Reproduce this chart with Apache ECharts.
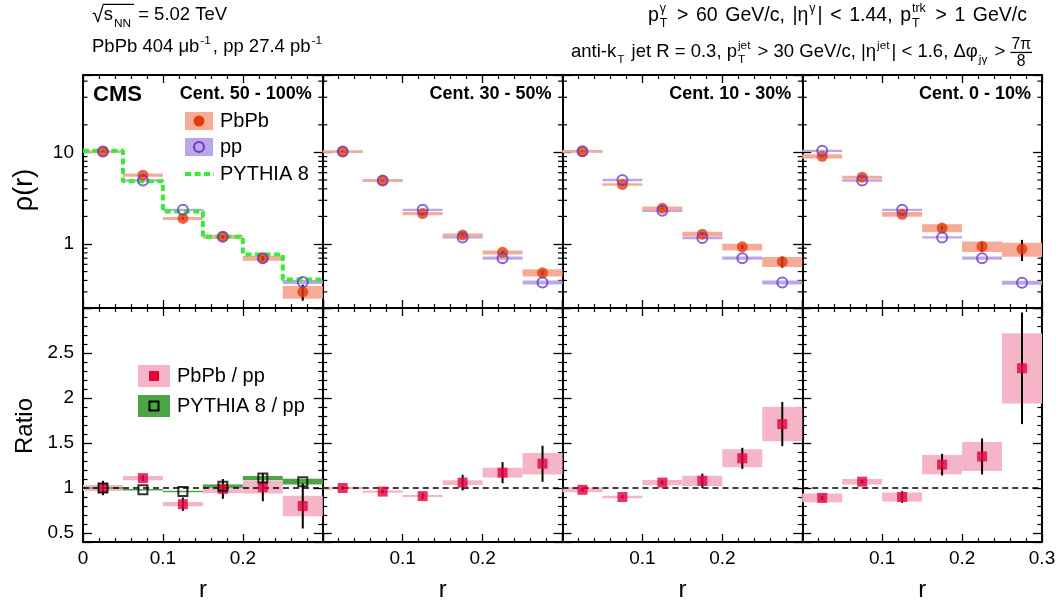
<!DOCTYPE html>
<html><head><meta charset="utf-8">
<script src="https://cdn.jsdelivr.net/npm/echarts@6/dist/echarts.min.js"></script>
<style>html,body{margin:0;padding:0;background:#fff}#c{width:1060px;height:603px}</style>
</head><body><div id="c"></div>
<script>
// ---------------- data ----------------
const binEdges = [0, 0.05, 0.10, 0.15, 0.20, 0.25, 0.30];
const centralityLabels = ['Cent. 50 - 100%', 'Cent. 30 - 50%', 'Cent. 10 - 30%', 'Cent. 0 - 10%'];
const xTickLabels = [['0', '0.1', '0.2'], ['0.1', '0.2'], ['0.1', '0.2'], ['0.1', '0.2', '0.3']];
const rhoTickLabels = ['1', '10'];
const rhoMinorTicks = [0.3, 0.4, 0.5, 0.6, 0.7, 0.8, 0.9, 2, 3, 4, 5, 6, 7, 8, 9, 20, 40, 60];
const ratioTickLabels = ['0.5', '1', '1.5', '2', '2.5'];
const ratioReference = 1;

// rho(r) PbPb values, relative syst, relative stat
const rhoPbPb_50_100 = [10.2, 5.64, 1.90, 1.20, 0.70, 0.30];
const rhoPbPb_30_50  = [10.2, 4.93, 2.15, 1.25, 0.81, 0.485];
const rhoPbPb_10_30  = [10.2, 4.47, 2.45, 1.28, 0.93, 0.64];
const rhoPbPb_0_10   = [9.05, 5.36, 2.11, 1.49, 0.94, 0.88];
const sysPbPb_50_100 = [0.03, 0.04, 0.04, 0.05, 0.06, 0.16];
const sysPbPb_30_50  = [0.03, 0.03, 0.04, 0.04, 0.05, 0.09];
const sysPbPb_10_30  = [0.03, 0.03, 0.05, 0.065, 0.085, 0.125];
const sysPbPb_0_10   = [0.055, 0.04, 0.06, 0.10, 0.13, 0.175];
const statPbPb_50_100 = [0.01, 0.02, 0.03, 0.04, 0.06, 0.20];
const statPbPb_30_50  = [0.01, 0.01, 0.02, 0.03, 0.04, 0.06];
const statPbPb_10_30  = [0.01, 0.01, 0.02, 0.03, 0.05, 0.14];
const statPbPb_0_10   = [0.01, 0.02, 0.03, 0.05, 0.12, 0.26];
// rho(r) pp (smeared per centrality)
const rhoPP_50_100 = [10.2, 4.93, 2.36, 1.20, 0.70, 0.385];
const rhoPP_30_50  = [10.2, 4.93, 2.36, 1.18, 0.70, 0.38];
const rhoPP_10_30  = [10.3, 5.00, 2.30, 1.16, 0.70, 0.38];
const rhoPP_0_10   = [10.4, 4.93, 2.36, 1.18, 0.70, 0.378];
const sysPP = [0.03, 0.03, 0.03, 0.03, 0.04, 0.05];
// PYTHIA 8 rho(r)
const rhoPythia = [10.4, 4.85, 2.26, 1.20, 0.77, 0.41];

// PbPb / pp ratios, absolute syst half-heights, absolute stat half-lengths
const ratio_50_100 = [1.00, 1.11, 0.82, 0.99, 1.01, 0.80];
const ratio_30_50  = [1.00, 0.96, 0.91, 1.06, 1.17, 1.27];
const ratio_10_30  = [0.98, 0.90, 1.06, 1.08, 1.33, 1.71];
const ratio_0_10   = [0.89, 1.07, 0.90, 1.26, 1.35, 2.33];
const ratioSys_50_100 = [0.033, 0.024, 0.024, 0.048, 0.07, 0.115];
const ratioSys_30_50  = [0.015, 0.013, 0.011, 0.026, 0.054, 0.12];
const ratioSys_10_30  = [0.026, 0.013, 0.03, 0.057, 0.10, 0.19];
const ratioSys_0_10   = [0.048, 0.031, 0.05, 0.106, 0.16, 0.39];
const ratioStat_50_100 = [0.08, 0.03, 0.074, 0.11, 0.157, 0.25];
const ratioStat_30_50  = [0.02, 0.02, 0.035, 0.087, 0.117, 0.20];
const ratioStat_10_30  = [0.02, 0.02, 0.02, 0.08, 0.117, 0.245];
const ratioStat_0_10   = [0.02, 0.02, 0.065, 0.12, 0.20, 0.62];
// PYTHIA 8 / pp
const ratioPythia = [1.00, 0.98, 0.96, 1.02, 1.11, 1.07];
const ratioPythiaSys = [0.004, 0.004, 0.004, 0.018, 0.024, 0.032];

// ---------------- style / layout ----------------
const FONT = '"Liberation Sans", Arial, Helvetica, sans-serif';
const X0 = 83, PW = 239.75, TOP1 = 75, H1 = 233, TOP2 = 308, H2 = 234;
const xMin = binEdges[0], xMax = binEdges[binEdges.length - 1];
const centers = binEdges.slice(0, -1).map((e, i) => (e + binEdges[i + 1]) / 2);
const halfW = (binEdges[1] - binEdges[0]) / 2;

const C_PBPB = '#e83b0b', C_PBPB_BOX = '#f5ab97';
const C_PP = '#6b3cc9', C_PP_BOX = '#bba7e8';
const C_PYTHIA = '#33ee33';
const C_RATIO = '#e6003c', C_RATIO_BOX = '#f5b4c8';
const C_PYR_BOX = '#4ba446';

const panels = [
  { pbpb: rhoPbPb_50_100, sys: sysPbPb_50_100, stat: statPbPb_50_100, pp: rhoPP_50_100, r: ratio_50_100, rs: ratioSys_50_100, rst: ratioStat_50_100 },
  { pbpb: rhoPbPb_30_50, sys: sysPbPb_30_50, stat: statPbPb_30_50, pp: rhoPP_30_50, r: ratio_30_50, rs: ratioSys_30_50, rst: ratioStat_30_50 },
  { pbpb: rhoPbPb_10_30, sys: sysPbPb_10_30, stat: statPbPb_10_30, pp: rhoPP_10_30, r: ratio_10_30, rs: ratioSys_10_30, rst: ratioStat_10_30 },
  { pbpb: rhoPbPb_0_10, sys: sysPbPb_0_10, stat: statPbPb_0_10, pp: rhoPP_0_10, r: ratio_0_10, rs: ratioSys_0_10, rst: ratioStat_0_10 }
];

const fmtNum = v => String(Math.round(v * 1000) / 1000);

function boxRender(color, minH) {
  return (params, api) => {
    const c = api.value(0), lo = api.value(1), hi = api.value(2);
    const a = api.coord([c - halfW, hi]), b = api.coord([c + halfW, lo]);
    let y = a[1], h = b[1] - a[1];
    if (h < minH) { y -= (minH - h) / 2; h = minH; }
    return { type: 'rect', shape: { x: a[0], y: y, width: b[0] - a[0], height: h }, style: { fill: color } };
  };
}
function errRender(params, api) {
  const c = api.value(0);
  const a = api.coord([c, api.value(1)]), b = api.coord([c, api.value(2)]);
  return { type: 'line', shape: { x1: a[0], y1: a[1], x2: b[0], y2: b[1] }, style: { stroke: '#000', lineWidth: 2 } };
}
function refLineRender(params, api) {
  const v = api.value(1);
  const a = api.coord([xMin, v]), b = api.coord([xMax, v]);
  return { type: 'line', shape: { x1: a[0], y1: a[1], x2: b[0], y2: b[1] }, style: { stroke: '#000', lineWidth: 1.5, lineDash: [6, 4] } };
}
function logMinorRender(params, api) {
  const v = api.value(1);
  const l = api.coord([xMin, v]), r = api.coord([xMax, v]);
  return { type: 'group', children: [
    { type: 'line', shape: { x1: l[0], y1: l[1], x2: l[0] + 4.5, y2: l[1] }, style: { stroke: '#000', lineWidth: 1.2 } },
    { type: 'line', shape: { x1: r[0], y1: r[1], x2: r[0] - 4.5, y2: r[1] }, style: { stroke: '#000', lineWidth: 1.2 } }
  ] };
}

const option = { animation: false, backgroundColor: '#fff', grid: [], xAxis: [], yAxis: [], series: [], graphic: [] };

const lineBlack = { color: '#000', width: 2 };
for (let row = 0; row < 2; row++) {
  for (let c = 0; c < 4; c++) {
    const g = row * 4 + c;
    option.grid.push({ left: X0 + c * PW, top: row ? TOP2 : TOP1, width: PW, height: row ? H2 : H1, show: false, containLabel: false });
    const baseX = {
      type: 'value', gridIndex: g, min: xMin, max: xMax, interval: 0.1,
      axisLine: { show: true, onZero: false, lineStyle: lineBlack },
      axisTick: { show: true, inside: true, length: 8, lineStyle: { color: '#000', width: 1.3 } },
      minorTick: { show: true, splitNumber: 5, length: 4, lineStyle: { color: '#000', width: 1.2 } },
      splitLine: { show: false }, minorSplitLine: { show: false }
    };
    option.xAxis.push(Object.assign({}, baseX, {
      position: 'bottom',
      axisLabel: row === 1 ? {
        show: true, margin: 7, fontFamily: FONT, fontSize: 19, color: '#000',
        showMinLabel: true, showMaxLabel: true,
        formatter: v => { const s = fmtNum(v); return xTickLabels[c].includes(s) ? s : ''; }
      } : { show: false }
    }));
    option.xAxis.push(Object.assign({}, baseX, { position: 'top', axisLabel: { show: false } }));

    let baseY;
    if (row === 0) {
      baseY = {
        type: 'log', logBase: 10, gridIndex: g, min: 0.2, max: 70,
        axisLine: { show: true, onZero: false, lineStyle: lineBlack },
        axisTick: { show: true, inside: true, length: 9, lineStyle: { color: '#000', width: 1.3 } },
        splitLine: { show: false }
      };
    } else {
      baseY = {
        type: 'value', gridIndex: g, min: 0.4, max: 3.0, splitNumber: 5,
        axisLine: { show: true, onZero: false, lineStyle: lineBlack },
        axisTick: { show: true, inside: true, length: 9, lineStyle: { color: '#000', width: 1.3 } },
        minorTick: { show: true, splitNumber: 5, length: 4.5, lineStyle: { color: '#000', width: 1.2 } },
        splitLine: { show: false }, minorSplitLine: { show: false }
      };
    }
    const labs = row === 0 ? rhoTickLabels : ratioTickLabels;
    option.yAxis.push(Object.assign({}, baseY, {
      position: 'left',
      axisLabel: c === 0 ? {
        show: true, margin: 9, fontFamily: FONT, fontSize: 19, color: '#000',
        showMinLabel: true, showMaxLabel: true,
        formatter: v => { const s = fmtNum(v); return labs.includes(s) ? s : ''; }
      } : { show: false }
    }));
    option.yAxis.push(Object.assign({}, baseY, { position: 'right', axisLabel: { show: false } }));
  }
}

const S = option.series;
panels.forEach((P, c) => {
  // ---------- top row: rho(r) ----------
  const gx = 2 * c, gy = 2 * c;
  S.push({ type: 'custom', z: 1, xAxisIndex: gx, yAxisIndex: gy, renderItem: logMinorRender, silent: true,
    data: rhoMinorTicks.map(v => [xMin, v]), encode: { x: 0, y: 1 } });
  S.push({ type: 'custom', z: 1, xAxisIndex: gx, yAxisIndex: gy, renderItem: boxRender(C_PP_BOX, 2), silent: true,
    data: centers.map((x, i) => [x, P.pp[i] * (1 - sysPP[i]), P.pp[i] * (1 + sysPP[i])]), encode: { x: 0, y: [1, 2] } });
  S.push({ type: 'custom', z: 1, xAxisIndex: gx, yAxisIndex: gy, renderItem: boxRender(C_PBPB_BOX, 2), silent: true,
    data: centers.map((x, i) => [x, P.pbpb[i] * (1 - P.sys[i]), P.pbpb[i] * (1 + P.sys[i])]), encode: { x: 0, y: [1, 2] } });
  if (c === 0) {
    S.push({ type: 'line', z: 2, xAxisIndex: gx, yAxisIndex: gy, step: 'end', symbol: 'none', silent: true,
      lineStyle: { color: C_PYTHIA, width: 4, type: [6, 3.5] },
      data: binEdges.map((e, i) => [e, rhoPythia[Math.min(i, rhoPythia.length - 1)]]) });
  }
  S.push({ type: 'custom', z: 3, xAxisIndex: gx, yAxisIndex: gy, renderItem: errRender, silent: true,
    data: centers.map((x, i) => [x, P.pbpb[i] * (1 - P.stat[i]), P.pbpb[i] * (1 + P.stat[i])]), encode: { x: 0, y: [1, 2] } });
  S.push({ type: 'scatter', z: 5, xAxisIndex: gx, yAxisIndex: gy, symbol: 'circle', symbolSize: 11, silent: true,
    itemStyle: { color: C_PBPB }, data: centers.map((x, i) => [x, P.pbpb[i]]) });
  S.push({ type: 'scatter', z: 6, xAxisIndex: gx, yAxisIndex: gy, symbol: 'circle', symbolSize: 10, silent: true,
    itemStyle: { color: 'rgba(0,0,0,0)', borderColor: C_PP, borderWidth: 2 }, data: centers.map((x, i) => [x, P.pp[i]]) });

  // ---------- bottom row: ratio ----------
  const bx = 2 * (4 + c), by = 2 * (4 + c);
  S.push({ type: 'custom', z: 1, xAxisIndex: bx, yAxisIndex: by, renderItem: boxRender(C_RATIO_BOX, 2), silent: true,
    data: centers.map((x, i) => [x, P.r[i] - P.rs[i], P.r[i] + P.rs[i]]), encode: { x: 0, y: [1, 2] } });
  if (c === 0) {
    S.push({ type: 'custom', z: 1, xAxisIndex: bx, yAxisIndex: by, renderItem: boxRender(C_PYR_BOX, 1.5), silent: true,
      data: centers.map((x, i) => [x, ratioPythia[i] - ratioPythiaSys[i], ratioPythia[i] + ratioPythiaSys[i]]), encode: { x: 0, y: [1, 2] } });
  }
  S.push({ type: 'custom', z: 2, xAxisIndex: bx, yAxisIndex: by, renderItem: refLineRender, silent: true,
    data: [[xMin, ratioReference]], encode: { x: 0, y: 1 } });
  S.push({ type: 'custom', z: 3, xAxisIndex: bx, yAxisIndex: by, renderItem: errRender, silent: true,
    data: centers.map((x, i) => [x, P.r[i] - P.rst[i], P.r[i] + P.rst[i]]), encode: { x: 0, y: [1, 2] } });
  S.push({ type: 'scatter', z: 5, xAxisIndex: bx, yAxisIndex: by, symbol: 'rect', symbolSize: 10, silent: true,
    itemStyle: { color: C_RATIO }, data: centers.map((x, i) => [x, P.r[i]]) });
  if (c === 0) {
    S.push({ type: 'scatter', z: 6, xAxisIndex: bx, yAxisIndex: by, symbol: 'rect', symbolSize: 9, silent: true,
      itemStyle: { color: 'rgba(0,0,0,0)', borderColor: '#000', borderWidth: 2 }, data: centers.map((x, i) => [x, ratioPythia[i]]) });
  }
});

// ---------------- text helpers ----------------
const mctx = document.createElement('canvas').getContext('2d');
function tw(t, size, bold) { mctx.font = (bold ? 'bold ' : '') + size + 'px "Liberation Sans"'; return mctx.measureText(t).width; }
const G = option.graphic;
function txt(t, x, B, size, opt) {
  opt = opt || {};
  return { type: 'text', silent: true, style: { text: t, x: x, y: B - 0.3465 * size, textAlign: opt.align || 'left', textVerticalAlign: 'middle',
    font: (opt.bold ? 'bold ' : '') + size + 'px ' + FONT, fill: '#000' } };
}
function seg(x1, y1, x2, y2, w) {
  return { type: 'line', silent: true, shape: { x1: x1, y1: y1, x2: x2, y2: y2 }, style: { stroke: '#000', lineWidth: w } };
}
function countSpaces(parts) {
  let n = 0;
  parts.forEach(p => { if (typeof p === 'string') n += (p.match(/ /g) || []).length; });
  return n;
}
function layout(parts, fs, x0, B, emit, extra) {
  extra = extra || 0;
  let x = x0; const ss = fs * 0.64; let ovl = null;
  const spW = tw(' ', fs);
  for (const p of parts) {
    if (typeof p === 'string') {
      const words = p.split(' ');
      words.forEach((w, k) => {
        if (k > 0) x += spW + extra;
        if (w.length) { if (emit) emit(txt(w, x, B, fs)); x += tw(w, fs); }
      });
    }
    else if (p.root) { const rz = fs * 1.15; if (emit) emit(txt(p.root, x, B + 0.12 * fs, rz)); x += tw(p.root, rz); }
    else if (p.ovl === 'start') { ovl = x; }
    else if (p.ovl === 'end') { if (emit) emit(seg(ovl - 1, B - 0.93 * fs, x + 1, B - 0.93 * fs, 1.2)); }
    else if (p.frac) {
      const fz = fs * 0.85;
      const w = Math.max(tw(p.frac[0], fz), tw(p.frac[1], fz)) + 2;
      if (emit) {
        emit(txt(p.frac[0], x + w / 2, B - 0.45 * fs, fz, { align: 'center' }));
        emit(txt(p.frac[1], x + w / 2, B + 0.48 * fs, fz, { align: 'center' }));
        emit(seg(x, B - 0.3 * fs, x + w, B - 0.3 * fs, 1.3));
      }
      x += w;
    } else {
      let w = 0;
      if (p.sub) { if (emit) emit(txt(p.sub, x + 1, B + 0.32 * fs, ss)); w = Math.max(w, tw(p.sub, ss)); }
      if (p.sup) { if (emit) emit(txt(p.sup, x + 1, B - 0.45 * fs, ss)); w = Math.max(w, tw(p.sup, ss)); }
      x += w + 3;
    }
  }
  return x - x0;
}
function placeText(parts, fs, xAnchor, B, align) {
  const w = layout(parts, fs, 0, 0, null);
  const xl = align === 'right' ? xAnchor - w : xAnchor;
  layout(parts, fs, xl, B, e => G.push(e));
}
function placeTextSpan(parts, fs, xl, xr, B) {
  const w = layout(parts, fs, 0, 0, null);
  const extra = Math.max(0, (xr - xl - w) / Math.max(1, countSpaces(parts)));
  layout(parts, fs, xl, B, e => G.push(e), extra);
}

const HF = 18.5;
placeText([{ root: '√' }, { ovl: 'start' }, 's', { sub: 'NN' }, { ovl: 'end' }, ' = 5.02 TeV'], HF, 92, 21.5, 'left');
placeText(['PbPb 404 μb', { sup: '-1' }, ', pp 27.4 pb', { sup: '-1' }], HF, 92, 53.5, 'left');
placeTextSpan(['p', { sub: 'T', sup: 'γ' }, ' > 60 GeV/c, |η', { sup: 'γ' }, '| < 1.44, p', { sub: 'T', sup: 'trk' }, ' > 1 GeV/c'], 19.5, 648, 1027, 22);
placeText(['anti-k', { sub: 'T' }, ' jet R = 0.3, p', { sub: 'T', sup: 'jet' }, ' > 30 GeV/c, ', '|η', { sup: 'jet' }, '| < 1.6, Δφ', { sub: 'jγ' }, ' > ', { frac: ['7π', '8'] }], HF, 1032, 58, 'right');

// CMS + centrality labels
G.push({ type: 'text', silent: true, style: { text: 'CMS', x: 93, y: 95, textVerticalAlign: 'middle', font: 'bold 22px ' + FONT, fill: '#000' } });
centralityLabels.forEach((t, c) => {
  G.push({ type: 'text', silent: true, style: { text: t, x: X0 + (c + 1) * PW - 11, y: 94, textAlign: 'right', textVerticalAlign: 'middle', font: 'bold 18px ' + FONT, fill: '#000' } });
});
// axis titles
G.push({ type: 'text', silent: true, x: 25, y: 190, rotation: Math.PI / 2, style: { text: 'ρ(r)', x: 0, y: 0, textAlign: 'center', textVerticalAlign: 'middle', font: '27px ' + FONT, fill: '#000' } });
G.push({ type: 'text', silent: true, x: 25, y: 426, rotation: Math.PI / 2, style: { text: 'Ratio', x: 0, y: 0, textAlign: 'center', textVerticalAlign: 'middle', font: '24px ' + FONT, fill: '#000' } });
for (let c = 0; c < 4; c++) {
  G.push({ type: 'text', silent: true, style: { text: 'r', x: X0 + c * PW + PW / 2, y: 590, textAlign: 'center', textVerticalAlign: 'middle', font: '24px ' + FONT, fill: '#000' } });
}
// top legend
const LF = '20px ' + FONT;
G.push({ type: 'rect', silent: true, shape: { x: 185, y: 112, width: 28, height: 18 }, style: { fill: C_PBPB_BOX } });
G.push({ type: 'circle', silent: true, shape: { cx: 199, cy: 121, r: 5.5 }, style: { fill: C_PBPB } });
G.push({ type: 'text', silent: true, style: { text: 'PbPb', x: 220, y: 121, textVerticalAlign: 'middle', font: LF, fill: '#000' } });
G.push({ type: 'rect', silent: true, shape: { x: 185, y: 138, width: 28, height: 18 }, style: { fill: C_PP_BOX } });
G.push({ type: 'circle', silent: true, shape: { cx: 199, cy: 147, r: 5 }, style: { fill: 'none', stroke: C_PP, lineWidth: 2 } });
G.push({ type: 'text', silent: true, style: { text: 'pp', x: 220, y: 147, textVerticalAlign: 'middle', font: LF, fill: '#000' } });
G.push({ type: 'line', silent: true, shape: { x1: 185, y1: 174, x2: 214, y2: 174 }, style: { stroke: C_PYTHIA, lineWidth: 4, lineDash: [6, 3.5] } });
G.push({ type: 'text', silent: true, style: { text: 'PYTHIA 8', x: 220, y: 174, textVerticalAlign: 'middle', font: LF, fill: '#000' } });
// bottom legend
G.push({ type: 'rect', silent: true, shape: { x: 138, y: 365, width: 32, height: 22 }, style: { fill: C_RATIO_BOX } });
G.push({ type: 'rect', silent: true, shape: { x: 149, y: 371, width: 10, height: 10 }, style: { fill: C_RATIO } });
G.push({ type: 'text', silent: true, style: { text: 'PbPb / pp', x: 177, y: 376, textVerticalAlign: 'middle', font: LF, fill: '#000' } });
G.push({ type: 'rect', silent: true, shape: { x: 138, y: 395, width: 32, height: 22 }, style: { fill: C_PYR_BOX } });
G.push({ type: 'rect', silent: true, shape: { x: 149.5, y: 401.5, width: 9, height: 9 }, style: { fill: 'none', stroke: '#000', lineWidth: 2 } });
G.push({ type: 'text', silent: true, style: { text: 'PYTHIA 8 / pp', x: 177, y: 406, textVerticalAlign: 'middle', font: LF, fill: '#000' } });

const chart = echarts.init(document.getElementById('c'), null, { renderer: 'canvas' });
chart.setOption(option);
</script>
</body></html>
